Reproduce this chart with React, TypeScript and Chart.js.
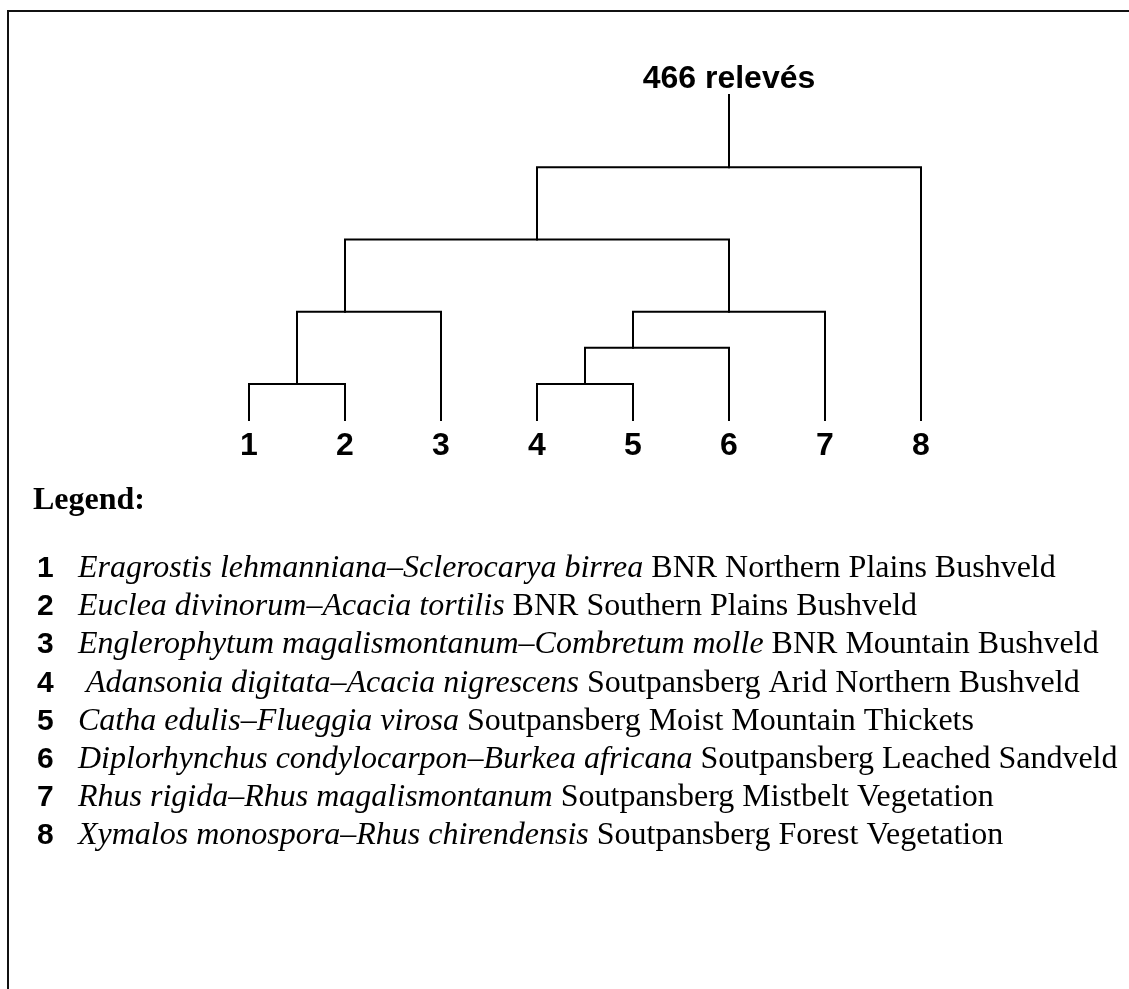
import React, { useEffect, useRef } from 'react';
import { Chart, registerables } from 'chart.js';

Chart.register(...registerables);

// ---- Data ----
const leafLabels = ['1', '2', '3', '4', '5', '6', '7', '8'];
const leafPositions = [1, 2, 3, 4, 5, 6, 7, 8];

// merge nodes (in order of creation)
const mergeIds = ['M1', 'M2', 'M3', 'M4', 'M5', 'M6', 'M7'];
const mergeLeft = ['L1', 'L4', 'M2', 'M1', 'M3', 'M4', 'M6'];
const mergeRight = ['L2', 'L5', 'L6', 'L3', 'L7', 'M5', 'L8'];
const mergeHeight = [1, 1, 2, 3, 3, 5, 7];
const mergeAnchor = [1.5, 4.5, 5, 2, 6, 4, 6];
const rootStemTop = 9;
const rootLabel = '466 relevés';

const legendTitle = 'Legend:';
const legendNumbers = ['1', '2', '3', '4', '5', '6', '7', '8'];
const legendSpecies = [
  'Eragrostis lehmanniana–Sclerocarya birrea',
  'Euclea divinorum–Acacia tortilis',
  'Englerophytum magalismontanum–Combretum molle',
  ' Adansonia digitata–Acacia nigrescens',
  'Catha edulis–Flueggia virosa',
  'Diplorhynchus condylocarpon–Burkea africana',
  'Rhus rigida–Rhus magalismontanum',
  'Xymalos monospora–Rhus chirendensis',
];
const legendRegions = [
  ' BNR Northern Plains Bushveld',
  ' BNR Southern Plains Bushveld',
  ' BNR Mountain Bushveld',
  ' Soutpansberg Arid Northern Bushveld',
  ' Soutpansberg Moist Mountain Thickets',
  ' Soutpansberg Leached Sandveld',
  ' Soutpansberg Mistbelt Vegetation',
  ' Soutpansberg Forest Vegetation',
];

const W = 1129;
const H = 989;
const SANS = '"Liberation Sans", Arial, Helvetica, sans-serif';
const SERIF = '"Liberation Serif", "Times New Roman", serif';

function nodeInfo(id: string): { x: number; h: number } {
  if (id.startsWith('L')) {
    const i = parseInt(id.slice(1), 10) - 1;
    return { x: leafPositions[i], h: 0 };
  }
  const k = mergeIds.indexOf(id);
  return { x: mergeAnchor[k], h: mergeHeight[k] };
}

function buildDatasets() {
  const ds: any[] = mergeIds.map((id, k) => {
    const a = nodeInfo(mergeLeft[k]);
    const b = nodeInfo(mergeRight[k]);
    const h = mergeHeight[k];
    return {
      label: id,
      data: [
        { x: a.x, y: a.h },
        { x: a.x, y: h },
        { x: b.x, y: h },
        { x: b.x, y: b.h },
      ],
    };
  });
  const root = nodeInfo(mergeIds[mergeIds.length - 1]);
  ds.push({
    label: 'root',
    data: [
      { x: root.x, y: root.h },
      { x: root.x, y: rootStemTop },
    ],
  });
  return ds.map((d) => ({
    ...d,
    showLine: true,
    borderColor: '#000',
    borderWidth: 2,
    pointRadius: 0,
    tension: 0,
    clip: false,
    borderCapStyle: 'square',
    borderJoinStyle: 'miter',
  }));
}

function drawText(
  ctx: CanvasRenderingContext2D,
  text: string,
  x: number,
  y: number,
  font: string,
  align: 'left' | 'center' = 'left'
): number {
  ctx.save();
  ctx.font = font;
  const w = ctx.measureText(text).width;
  ctx.textAlign = align;
  ctx.textBaseline = 'alphabetic';
  ctx.fillStyle = '#000';
  ctx.fillText(text, x, y);
  ctx.restore();
  return w;
}

const textPlugin = {
  id: 'dendroText',
  afterDraw(chart: any) {
    const ctx: CanvasRenderingContext2D = chart.ctx;
    const xs = chart.scales.x;
    const ys = chart.scales.y;
    // frame
    ctx.save();
    ctx.fillStyle = '#111';
    ctx.fillRect(7, 10, W, 2);
    ctx.fillRect(7, 10, 2, H);
    ctx.restore();

    // leaf labels
    const y0 = ys.getPixelForValue(0);
    leafLabels.forEach((lab, i) => {
      drawText(ctx, lab, xs.getPixelForValue(leafPositions[i]), y0 + 35, `bold 32px ${SANS}`, 'center');
    });
    // root label
    const root = nodeInfo(mergeIds[mergeIds.length - 1]);
    drawText(ctx, rootLabel, xs.getPixelForValue(root.x), ys.getPixelForValue(rootStemTop) - 7, `bold 32px ${SANS}`, 'center');

    // legend
    drawText(ctx, legendTitle, 33, 509, `bold 32px ${SERIF}`);
    legendNumbers.forEach((n, i) => {
      const by = 577 + i * 38.2;
      drawText(ctx, n, 37, by, `bold 30px ${SANS}`);
      let x = 78;
      x += drawText(ctx, legendSpecies[i], x, by, `italic 32px ${SERIF}`);
      drawText(ctx, legendRegions[i], x, by, `32px ${SERIF}`);
    });
  },
};

export default function App() {
  const ref = useRef<HTMLCanvasElement | null>(null);
  useEffect(() => {
    if (!ref.current) return;
    const chart = new Chart(ref.current, {
      type: 'scatter',
      data: { datasets: buildDatasets() },
      options: {
        responsive: false,
        animation: false,
        layout: { padding: { left: 249, right: W - 921, top: 95, bottom: H - 420 } },
        scales: {
          x: { type: 'linear', min: 1, max: 8, display: false },
          y: { type: 'linear', min: 0, max: rootStemTop, display: false },
        },
        plugins: { legend: { display: false }, tooltip: { enabled: false } },
      },
      plugins: [textPlugin],
    });
    return () => chart.destroy();
  }, []);
  return (
    <div style={{ position: 'absolute', left: 0, top: 0, width: W, height: H, background: '#fff' }}>
      <canvas ref={ref} width={W} height={H} style={{ display: 'block' }} />
    </div>
  );
}
